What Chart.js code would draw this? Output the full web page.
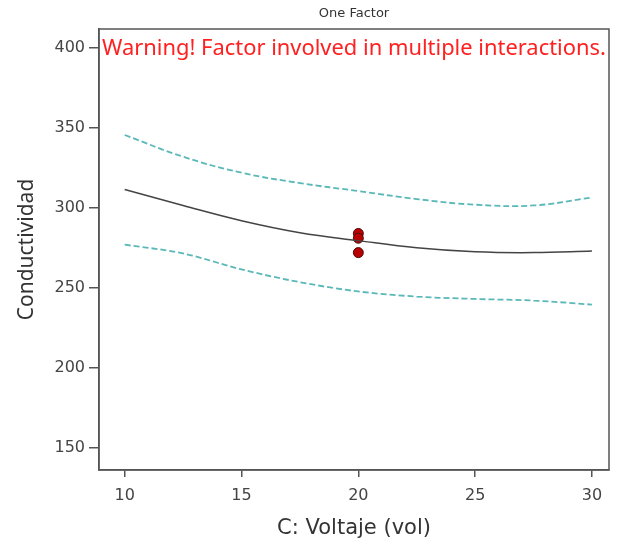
<!DOCTYPE html>
<html>
<head>
<meta charset="utf-8">
<script src="https://cdn.jsdelivr.net/npm/chart.js@4/dist/chart.umd.min.js"></script>
<style>
  html, body { margin: 0; padding: 0; background: #fff; }
  #wrap { width: 623px; height: 545px; }
</style>
</head>
<body>
<div id="wrap"><canvas id="c" width="623" height="545"></canvas></div>
<script>
// ---- data ----
const voltage = [10, 12.5, 15, 17.5, 20, 22.5, 25, 27.5, 30];
const predicted = [311.5, 301.5, 292, 284.5, 279.5, 275, 272.5, 272, 273];
const upperBand = [345.6, 332, 322, 315.5, 310.5, 305.5, 302, 301.5, 306.5];
const lowerBand = [277, 271.5, 261.5, 253.5, 247.7, 244.5, 243, 242, 239.5];
const obsVoltage = [20, 20, 20];
const obsConductividad = [284, 281, 272];
const xTicks = [10, 15, 20, 25, 30];
const yTicks = [150, 200, 250, 300, 350, 400];
const chartTitle = 'One Factor';
const warningText = 'Warning! Factor involved in multiple interactions.';
const xTitle = 'C: Voltaje (vol)';
const yTitle = 'Conductividad';

const pts = (xs, ys) => xs.map((x, i) => ({ x: x, y: ys[i] }));
const FONT = "'Noto Sans', 'DejaVu Sans', sans-serif";
const WIDE = "'DejaVu Sans', 'Noto Sans', sans-serif";

const boxAndWarning = {
  id: 'boxAndWarning',
  afterDraw(chart) {
    const { ctx, chartArea: a } = chart;
    ctx.save();
    ctx.strokeStyle = '#555';
    ctx.lineWidth = 1.5;
    ctx.strokeRect(a.left, a.top, a.right - a.left, a.bottom - a.top);
    // warning text fitted to the box width
    let size = 18;
    ctx.font = size + 'px ' + FONT;
    const target = (a.right - a.left) - 6;
    const w = ctx.measureText(warningText).width;
    size = size * target / w;
    ctx.font = size + 'px ' + FONT;
    ctx.fillStyle = '#ff2020';
    ctx.textBaseline = 'middle';
    ctx.textAlign = 'left';
    ctx.fillText(warningText, a.left + 3, chart.scales.y.getPixelForValue(400) + 1);
    ctx.restore();
  }
};

new Chart(document.getElementById('c'), {
  type: 'line',
  data: {
    datasets: [
      {
        label: 'upper',
        data: pts(voltage, upperBand),
        borderColor: '#5ab8b8',
        borderWidth: 1.8,
        borderDash: [6, 3],
        pointRadius: 0,
        fill: false,
        tension: 0.4
      },
      {
        label: 'lower',
        data: pts(voltage, lowerBand),
        borderColor: '#5ab8b8',
        borderWidth: 1.8,
        borderDash: [6, 3],
        pointRadius: 0,
        fill: false,
        cubicInterpolationMode: 'monotone'
      },
      {
        label: 'predicted',
        data: pts(voltage, predicted),
        borderColor: '#444',
        borderWidth: 1.5,
        pointRadius: 0,
        fill: false,
        tension: 0.4
      },
      {
        label: 'obs',
        type: 'scatter',
        data: pts(obsVoltage, obsConductividad),
        backgroundColor: '#b80000',
        borderColor: '#4a0c0c',
        borderWidth: 1,
        pointRadius: 5,
        showLine: false
      }
    ]
  },
  options: {
    responsive: false,
    animation: false,
    devicePixelRatio: 1,
    layout: { padding: { left: 14, right: 14, top: 0, bottom: 4 } },
    plugins: {
      legend: { display: false },
      tooltip: { enabled: false },
      title: {
        display: true,
        fullSize: false,
        text: chartTitle,
        color: '#333',
        font: { family: WIDE, size: 13, weight: 'normal', lineHeight: 1.2 },
        padding: { top: 6, bottom: 7.4 }
      }
    },
    scales: {
      x: {
        type: 'linear',
        min: 8.9,
        max: 30.73,
        afterBuildTicks(s) { s.ticks = xTicks.map(v => ({ value: v })); },
        afterFit(s) { s.height = 71; },
        grid: { display: true, drawOnChartArea: false, drawTicks: true, tickLength: 7, color: '#555', lineWidth: 1.5 },
        border: { display: true, color: '#555', width: 1.5 },
        ticks: { color: '#444', font: { family: WIDE, size: 16 }, padding: 9, maxRotation: 0 },
        title: { display: true, text: xTitle, color: '#333', font: { family: WIDE, size: 21 }, padding: { top: 2, bottom: 0 } }
      },
      y: {
        type: 'linear',
        min: 136,
        max: 411.9,
        afterBuildTicks(s) { s.ticks = yTicks.map(v => ({ value: v })); },
        afterFit(s) { s.width = 85; },
        grid: { display: true, drawOnChartArea: false, drawTicks: true, tickLength: 10, color: '#555', lineWidth: 1.5 },
        border: { display: true, color: '#555', width: 1.5 },
        ticks: { color: '#444', font: { family: WIDE, size: 16 }, padding: 4 },
        title: { display: true, text: yTitle, color: '#333', font: { family: FONT, size: 21 }, padding: { top: 0, bottom: 0 } }
      }
    }
  },
  plugins: [boxAndWarning]
});
</script>
</body>
</html>
